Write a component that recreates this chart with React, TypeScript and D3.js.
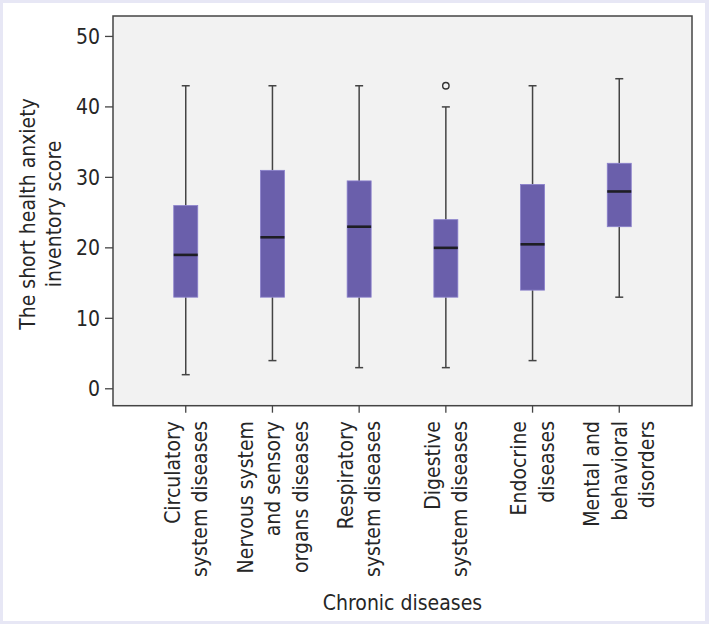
import React from "react";
import * as d3 from "d3";

const categories: string[][] = [
  ["Circulatory", "system diseases"],
  ["Nervous system", "and sensory", "organs diseases"],
  ["Respiratory", "system diseases"],
  ["Digestive", "system diseases"],
  ["Endocrine", "diseases"],
  ["Mental and", "behavioral", "disorders"],
];
const whiskerLow = [2, 4, 3, 3, 4, 13];
const q1 = [13, 13, 13, 13, 14, 23];
const median = [19, 21.5, 23, 20, 20.5, 28];
const q3 = [26, 31, 29.5, 24, 29, 32];
const whiskerHigh = [43, 43, 43, 40, 43, 44];
const outliers: [number, number][] = [[3, 43]];
const yTicks = [0, 10, 20, 30, 40, 50];

const W = 709;
const H = 624;
const plot = { left: 113, right: 692, top: 16, bottom: 405.7 };
const FONT = "'DejaVu Sans Condensed', 'DejaVu Sans', sans-serif";
const FS = 21;
const TEXT = "#262626";

export default function App() {
  const keys = categories.map((c, i) => String(i));
  const x = d3
    .scalePoint<string>()
    .domain(keys)
    .range([plot.left, plot.right])
    .padding(0.839);
  const y = d3.scaleLinear().domain([-2.4, 52.9]).range([plot.bottom, plot.top]);
  const boxW = 24;
  const capW = 8;
  const lineH = 27.5;

  return (
    <div style={{ position: "absolute", left: 0, top: 0 }}>
      <svg width={W} height={H} style={{ display: "block" }}>
        <rect x={0} y={0} width={W} height={H} fill="#e7e7f5" />
        <rect x={3} y={3} width={702} height={618} fill="#ffffff" />
        <rect
          x={plot.left}
          y={plot.top}
          width={plot.right - plot.left}
          height={plot.bottom - plot.top}
          fill="#f2f2f2"
          stroke="#444"
          strokeWidth={1.5}
        />
        {yTicks.map((t) => (
          <g key={t}>
            <line x1={plot.left - 8} x2={plot.left} y1={y(t)} y2={y(t)} stroke="#444" strokeWidth={1.3} />
            <text
              x={plot.left - 13}
              y={y(t)}
              dy="0.36em"
              textAnchor="end"
              fontFamily={FONT}
              fontSize={FS}
              fill={TEXT}
            >
              {t}
            </text>
          </g>
        ))}
        {keys.map((k, i) => {
          const cx = x(k)!;
          return (
            <g key={k}>
              <line x1={cx} x2={cx} y1={y(whiskerHigh[i])} y2={y(q3[i])} stroke="#444" strokeWidth={1.5} />
              <line x1={cx} x2={cx} y1={y(q1[i])} y2={y(whiskerLow[i])} stroke="#444" strokeWidth={1.5} />
              <line x1={cx - capW / 2} x2={cx + capW / 2} y1={y(whiskerHigh[i])} y2={y(whiskerHigh[i])} stroke="#444" strokeWidth={1.5} />
              <line x1={cx - capW / 2} x2={cx + capW / 2} y1={y(whiskerLow[i])} y2={y(whiskerLow[i])} stroke="#444" strokeWidth={1.5} />
              <rect
                x={cx - boxW / 2}
                y={y(q3[i])}
                width={boxW}
                height={y(q1[i]) - y(q3[i])}
                fill="#6a5fab"
                stroke="#8a80cc"
                strokeWidth={0.8}
              />
              <line x1={cx - boxW / 2} x2={cx + boxW / 2} y1={y(median[i])} y2={y(median[i])} stroke="#1e1e24" strokeWidth={2.6} />
            </g>
          );
        })}
        {outliers.map(([ci, v], j) => (
          <circle key={j} cx={x(String(ci))!} cy={y(v)} r={3.2} fill="none" stroke="#333" strokeWidth={1.4} />
        ))}
        {keys.map((k, i) => {
          const cx = x(k)!;
          const lines = categories[i];
          const n = lines.length;
          return (
            <g key={"xt" + k}>
              <line x1={cx} x2={cx} y1={plot.bottom} y2={plot.bottom + 7} stroke="#444" strokeWidth={1.3} />
              {lines.map((ln, j) => {
                const lx = cx + (j - (n - 1) / 2) * lineH;
                const ly = 421;
                return (
                  <text
                    key={j}
                    transform={`translate(${lx},${ly}) rotate(-90)`}
                    dy="0.36em"
                    textAnchor="end"
                    fontFamily={FONT}
                    fontSize={FS}
                    fill={TEXT}
                  >
                    {ln}
                  </text>
                );
              })}
            </g>
          );
        })}
        <text
          x={(plot.left + plot.right) / 2}
          y={610}
          textAnchor="middle"
          fontFamily={FONT}
          fontSize={FS}
          fill={TEXT}
        >
          Chronic diseases
        </text>
        {["The short health anxiety", "inventory score"].map((ln, j) => (
          <text
            key={j}
            transform={`translate(${27 + j * 26},214) rotate(-90)`}
            dy="0.36em"
            textAnchor="middle"
            fontFamily={FONT}
            fontSize={FS}
            fill={TEXT}
          >
            {ln}
          </text>
        ))}
      </svg>
    </div>
  );
}
